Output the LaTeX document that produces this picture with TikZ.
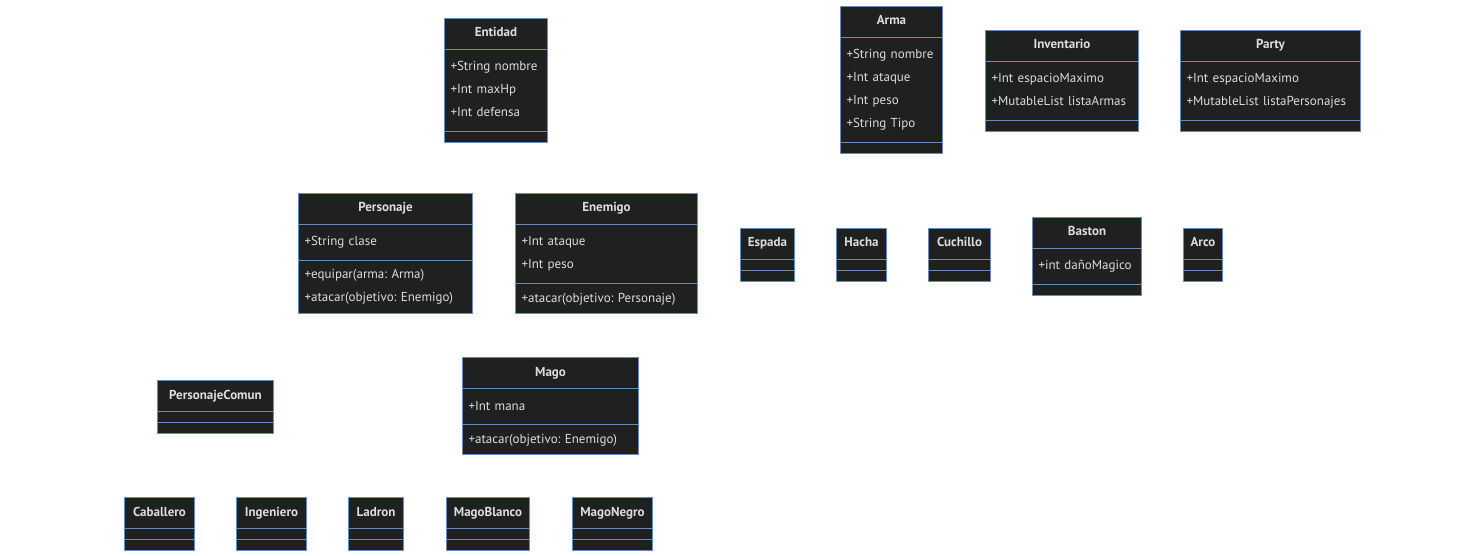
\documentclass[tikz,border=0pt]{standalone}
\usepackage{fontspec}
\setmainfont{PT Sans}
\usetikzlibrary{shapes.multipart}

\definecolor{classfill}{HTML}{1F2020}
\definecolor{classline}{HTML}{6A8DB8}
\definecolor{classtext}{HTML}{DCDCDC}

\newcommand{\clsfont}{\fontsize{13}{23}\selectfont\frenchspacing\hyphenpenalty=10000\relax}
\newcommand{\namestrut}{\rule[-7pt]{0pt}{20pt}}
\newcommand{\clsname}[1]{\namestrut\hspace*{\fill}\textbf{#1}\hspace*{\fill}\namestrut}
\newcommand{\clsattrs}[1]{\rule{0pt}{16pt}#1\rule[-9pt]{0pt}{9pt}}
\newcommand{\clsops}[1]{\rule{0pt}{13pt}#1\rule[-6pt]{0pt}{6pt}}

\tikzset{
  umlclass/.style={rectangle split, rectangle split parts=3, anchor=north west,
    draw=classline, line width=1pt, fill=classfill, text=classtext,
    font=\clsfont, align=left, inner xsep=6pt, inner ysep=5pt,
    rectangle split empty part height=0pt, rectangle split empty part depth=0pt}
}

\begin{document}
\begin{tikzpicture}[x=1pt, y=-1pt]
    \useasboundingbox (0,0) rectangle (1484,556);

    \node[umlclass, text width=91pt](entidad) at (444,18)
        {\clsname{Entidad}\nodepart{two}\clsattrs{+String nombre\\+Int maxHp\\+Int defensa}\nodepart{three}};
    \node[umlclass, text width=90pt](arma) at (840,6)
        {\clsname{Arma}\nodepart{two}\clsattrs{+String nombre\\+Int ataque\\+Int peso\\+String Tipo}\nodepart{three}};
    \node[umlclass, text width=141pt](inventario) at (985,30)
        {\clsname{Inventario}\nodepart{two}\clsattrs{+Int espacioMaximo\\+MutableList listaArmas}\nodepart{three}};
    \node[umlclass, text width=168pt](party) at (1180,30)
        {\clsname{Party}\nodepart{two}\clsattrs{+Int espacioMaximo\\+MutableList listaPersonajes}\nodepart{three}};

    \node[umlclass, text width=162pt](personaje) at (298,193)
        {\clsname{Personaje}\nodepart{two}\clsattrs{+String clase}\nodepart{three}\clsops{+equipar(arma: Arma)\\+atacar(objetivo: Enemigo)}};
    \node[umlclass, text width=170pt](enemigo) at (515,193)
        {\clsname{Enemigo}\nodepart{two}\clsattrs{+Int ataque\\+Int peso}\nodepart{three}\clsops{+atacar(objetivo: Personaje)}};

    \node[umlclass, text width=42pt](espada) at (740,228) {\clsname{Espada}\nodepart{two}\nodepart{three}};
    \node[umlclass, text width=38pt](hacha) at (836,228) {\clsname{Hacha}\nodepart{two}\nodepart{three}};
    \node[umlclass, text width=50pt](cuchillo) at (928,228) {\clsname{Cuchillo}\nodepart{two}\nodepart{three}};
    \node[umlclass, text width=97pt](baston) at (1032,217)
        {\clsname{Baston}\nodepart{two}\clsattrs{+int dañoMagico}\nodepart{three}};
    \node[umlclass, text width=27pt](arco) at (1183,228) {\clsname{Arco}\nodepart{two}\nodepart{three}};

    \node[umlclass, text width=104pt](personajecomun) at (157,380) {\clsname{PersonajeComun}\nodepart{two}\nodepart{three}};
    \node[umlclass, text width=164pt](mago) at (462,357)
        {\clsname{Mago}\nodepart{two}\clsattrs{+Int mana}\nodepart{three}\clsops{+atacar(objetivo: Enemigo)}};

    \node[umlclass, text width=58pt](caballero) at (124,497) {\clsname{Caballero}\nodepart{two}\nodepart{three}};
    \node[umlclass, text width=58pt](ingeniero) at (236,497) {\clsname{Ingeniero}\nodepart{two}\nodepart{three}};
    \node[umlclass, text width=43pt](ladron) at (348,497) {\clsname{Ladron}\nodepart{two}\nodepart{three}};
    \node[umlclass, text width=71pt](magoblanco) at (446,497) {\clsname{MagoBlanco}\nodepart{two}\nodepart{three}};
    \node[umlclass, text width=68pt](magonegro) at (572,497) {\clsname{MagoNegro}\nodepart{two}\nodepart{three}};
\end{tikzpicture}
\end{document}
